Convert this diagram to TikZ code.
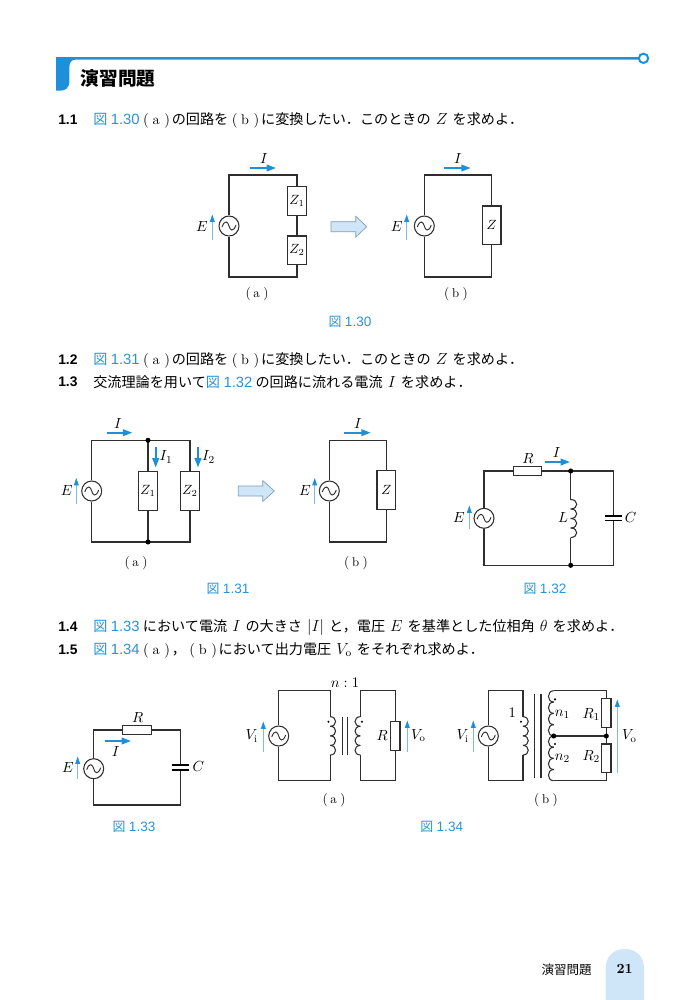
\documentclass[tikz,border=0pt]{standalone}
\usepackage{fontspec}
\usetikzlibrary{arrows.meta}
\newfontfamily\cjk{Noto Sans CJK JP}
\newfontfamily\hv[Scale=1.05]{Liberation Sans}
\definecolor{figblue}{HTML}{2A93D5}
\definecolor{headblue}{HTML}{1D90DC}
\definecolor{paleblue}{HTML}{CFE6F8}
\definecolor{thinblue}{HTML}{7DBDE4}
\definecolor{wirecol}{HTML}{2E2E2E}
\definecolor{arrowedge}{HTML}{7E9DB5}
\newcommand{\fg}[1]{{\color{figblue}\cjk 図\hspace{2.6pt}\hv #1}}
\newcommand{\pa}[1]{\hspace{2.6pt}$($\hspace{2.8pt}$\mathrm{#1}$\hspace{3.5pt}$)$\hspace{1.3pt}}
\newcommand{\sbl}[1]{$($\hspace{2pt}$\mathrm{#1}$\hspace{2.6pt}$)$}
\newcommand{\tm}[1]{\hspace{1.4pt}{\fontsize{11.5}{13}\selectfont$#1$}\hspace{1.4pt}}
\newcommand{\inductor}[5]{% x, y top, y bottom, bumps, bulge
  \pgfmathsetmacro{\hh}{(#3-#2)/#4}
  \foreach \k in {1,...,#4}{
    \draw[wire] (#1,{#2+(\k-1)*\hh}) .. controls ({#1+#5},{#2+(\k-1)*\hh}) and ({#1+#5},{#2+\k*\hh}) .. (#1,{#2+\k*\hh});
  }}
\newcommand{\blockarrow}[5]{% x0, xneck, x1, y centre, half body
  \draw[fill=paleblue,draw=arrowedge,line width=.5pt] (#1,#4-#5) -- (#2,#4-#5) -- (#2,#4-#5*2.1) -- (#3,#4) -- (#2,#4+#5*2.1) -- (#2,#4+#5) -- (#1,#4+#5) -- cycle;}
\tikzset{
  wire/.style={draw=wirecol,line width=.8pt,line join=miter},
  acsrc/.style={circle,draw=wirecol,line width=.8pt,minimum size=15pt,inner sep=0pt,fill=white,
    path picture={\draw[wirecol,line width=.7pt,shift={(path picture bounding box.center)}] (-7,1) .. controls (-4,-7) and (-1,-4) .. (0,0) .. controls (1,4) and (4,7) .. (7,-1);}},
  imp/.style={rectangle,draw=wirecol,line width=.9pt,fill=white,minimum width=14pt,minimum height=21.5pt,inner sep=0pt},
  impb/.style={imp,minimum height=29pt},
  res/.style={rectangle,draw=wirecol,line width=.9pt,fill=white,minimum width=21.5pt,minimum height=6.5pt,inner sep=0pt},
  vres/.style={rectangle,draw=wirecol,line width=.9pt,fill=white,minimum width=7pt,minimum height=21.5pt,inner sep=0pt},
  jn/.style={circle,fill=black,inner sep=0pt,minimum size=3.8pt},
  mk/.style={circle,fill=black,inner sep=0pt,minimum size=1.8pt},
  lab/.style={inner sep=0pt,font=\fontsize{10.8}{13}\selectfont},
  sublab/.style={inner sep=0pt,font=\fontsize{9.6}{11}\selectfont},
  figcap/.style={inner sep=0pt,font=\fontsize{9.7}{12}\selectfont},
  txt/.style={anchor=west,inner sep=0pt,font=\fontsize{10.6}{12}\selectfont\cjk},
  num/.style={anchor=west,inner sep=0pt,font=\fontsize{9.9}{12}\selectfont\bfseries\hv},
  cur/.style={draw=headblue,line width=1.2pt,-{Triangle[length=7pt,width=5pt]}},
  vlt/.style={draw=thinblue,line width=.55pt,-{Triangle[length=5.5pt,width=3.6pt,color=headblue]}},
  plate/.style={draw=black,line width=1pt},
}
\begin{document}
\begin{tikzpicture}[x=0.75pt,y=-0.75pt]
\useasboundingbox (0,0) rectangle (699,1000);
% heading
\fill[headblue] (56,57) -- (640,57) -- (640,59.5) -- (76,59.5) .. controls (71,59.5) and (69.3,63) .. (69.3,68) -- (69.3,82) .. controls (69.3,88) and (65,90.7) .. (60,90.7) -- (56,90.7) -- cycle;
\node[circle,draw=headblue,line width=1.5pt,fill=white,minimum size=7pt,inner sep=0pt] (hc) at (643.5,58.3) {};
\node[anchor=west,inner sep=0pt,font=\fontsize{14}{16}\selectfont\bfseries\cjk] (head) at (80.5,78) {演習問題};
% text
\node[num] (n1) at (58,120) {1.1};
\node[txt] (t1) at (93,120) {\fg{1.30}\pa{a}の回路を\pa{b}に変換したい．このときの \tm{Z} を求めよ．};
\node[num] (n2) at (58,360) {1.2};
\node[txt] (t2) at (93,360) {\fg{1.31}\pa{a}の回路を\pa{b}に変換したい．このときの \tm{Z} を求めよ．};
\node[num] (n3) at (58,382) {1.3};
\node[txt] (t3) at (93,382) {交流理論を用いて\fg{1.32} の回路に流れる電流 \tm{I} を求めよ．};
\node[num] (n4) at (58,627) {1.4};
\node[txt] (t4) at (93,627) {\fg{1.33} において電流 \tm{I} の大きさ \tm{|I|} と，電圧 \tm{E} を基準とした位相角 \tm{\theta} を求めよ．};
\node[num] (n5) at (58,650) {1.5};
\node[txt] (t5) at (93,650) {\fg{1.34}\pa{a}，\pa{b}において出力電圧 \tm{V_{\mathrm{o}}} をそれぞれ求めよ．};

% Fig 1.30 a
\coordinate (atl) at (229,175); \coordinate (atr) at (297,175);
\coordinate (abl) at (229,277); \coordinate (abr) at (297,277);
\node[acsrc] (as) at (229,226) {};
\node[imp] (az1) at (297,200.8) {$Z_1$};
\node[imp] (az2) at (297,250.3) {$Z_2$};
\draw[wire] (as) -- (atl) -- (atr) -- (az1);
\draw[wire] (az1) -- (az2);
\draw[wire] (az2) -- (abr) -- (abl) -- (as);
\coordinate (ai0) at (250,168); \coordinate (ai1) at (276,168);
\draw[cur] (ai0) -- (ai1);
\node[lab] (aI) at (264,159) {$I$};
\node[lab] (aE) at (202,227) {$E$};
\coordinate (ae0) at (212.3,239.5); \coordinate (ae1) at (212.3,214.5);
\draw[vlt] (ae0) -- (ae1);
\node[sublab] (al) at (257,294) {\sbl{a}};
\blockarrow{331}{355.7}{366.7}{226.7}{5}
% Fig 1.30 b
\coordinate (btl) at (424.3,175); \coordinate (btr) at (491.7,175);
\coordinate (bbl) at (424.3,277); \coordinate (bbr) at (491.7,277);
\node[acsrc] (bs) at (424.3,226) {};
\node[impb] (bz) at (491.7,225.3) {$Z$};
\draw[wire] (bs) -- (btl) -- (btr) -- (bz);
\draw[wire] (bz) -- (bbr) -- (bbl) -- (bs);
\coordinate (bi0) at (444.3,168); \coordinate (bi1) at (470.7,168);
\draw[cur] (bi0) -- (bi1);
\node[lab] (bI) at (458,159) {$I$};
\node[lab] (bE) at (396.7,227) {$E$};
\coordinate (be0) at (406.7,239.5); \coordinate (be1) at (406.7,214.5);
\draw[vlt] (be0) -- (be1);
\node[sublab] (bl) at (456,294) {\sbl{b}};
\node[figcap] (c130) at (350,322) {\fg{1.30}};

% Fig 1.31 a
\coordinate (ctl) at (91.7,440.3); \coordinate (ctm) at (148,440.3); \coordinate (ctr) at (190,440.3);
\coordinate (cbl) at (91.7,542); \coordinate (cbm) at (148,542); \coordinate (cbr) at (190,542);
\node[acsrc] (cs) at (91.7,491) {};
\node[impb] (cz1) at (148,491) {$Z_1$};
\node[impb] (cz2) at (190,491) {$Z_2$};
\draw[wire] (cs) -- (ctl) -- (ctr) -- (cz2);
\draw[wire] (cz2) -- (cbr) -- (cbl) -- (cs);
\draw[wire] (ctm) -- (cz1); \draw[wire] (cz1) -- (cbm);
\node[jn] (cd1) at (ctm) {}; \node[jn] (cd2) at (cbm) {};
\coordinate (ci0) at (106.7,432.7); \coordinate (ci1) at (132.3,432.7);
\draw[cur] (ci0) -- (ci1);
\node[lab] (cI) at (118,424) {$I$};
\coordinate (ci2) at (155.7,447); \coordinate (ci3) at (155.7,467.5);
\draw[cur] (ci2) -- (ci3);
\node[lab] (cI1) at (166,457) {$I_1$};
\coordinate (ci4) at (198,447); \coordinate (ci5) at (198,467.5);
\draw[cur] (ci4) -- (ci5);
\node[lab] (cI2) at (208.5,457) {$I_2$};
\node[lab] (cE) at (66.7,491) {$E$};
\coordinate (ce0) at (76.3,504); \coordinate (ce1) at (76.3,478);
\draw[vlt] (ce0) -- (ce1);
\node[sublab] (cl) at (136,562.7) {\sbl{a}};
\blockarrow{238.3}{262.7}{274.3}{491}{5}
% Fig 1.31 b
\coordinate (dtl) at (329.3,440.3); \coordinate (dtr) at (386.3,440.3);
\coordinate (dbl) at (329.3,542); \coordinate (dbr) at (386.3,542);
\node[acsrc] (ds) at (329.3,491) {};
\node[impb] (dz) at (386.3,489.8) {$Z$};
\draw[wire] (ds) -- (dtl) -- (dtr) -- (dz);
\draw[wire] (dz) -- (dbr) -- (dbl) -- (ds);
\coordinate (di0) at (344.3,432.7); \coordinate (di1) at (370.7,432.7);
\draw[cur] (di0) -- (di1);
\node[lab] (dI) at (358,424) {$I$};
\node[lab] (dE) at (305,491) {$E$};
\coordinate (de0) at (314.7,504); \coordinate (de1) at (314.7,478);
\draw[vlt] (de0) -- (de1);
\node[sublab] (dl) at (356,562.7) {\sbl{b}};
\node[figcap] (c131) at (228,589) {\fg{1.31}};

% Fig 1.32
\coordinate (etl) at (484,471); \coordinate (etm) at (570.7,471); \coordinate (etr) at (613.3,471);
\coordinate (ebl) at (484,565.3); \coordinate (ebm) at (570.7,565.3); \coordinate (ebr) at (613.3,565.3);
\coordinate (el0) at (570.7,499.5); \coordinate (el1) at (570.7,537.5);
\coordinate (ec0) at (613.3,516); \coordinate (ec1) at (613.3,520.5);
\node[acsrc] (es) at (484,518.3) {};
\node[res] (er) at (527.5,471) {};
\draw[wire] (es) -- (etl) -- (er);
\draw[wire] (er) -- (etr) -- (ec0);
\draw[wire] (ec1) -- (ebr) -- (ebl) -- (es);
\draw[wire] (etm) -- (el0); \draw[wire] (el1) -- (ebm);
\inductor{570.7}{499.5}{537.5}{4}{8}
\draw[plate] (605,516) -- (621.7,516); \draw[plate] (605,520.5) -- (621.7,520.5);
\node[jn] (ed1) at (etm) {}; \node[jn] (ed2) at (ebm) {};
\node[lab] (eR) at (528,459) {$R$};
\coordinate (ei0) at (545,462); \coordinate (ei1) at (570,462);
\draw[cur] (ei0) -- (ei1);
\node[lab] (eI) at (556.7,452.7) {$I$};
\node[lab] (eE) at (459,518) {$E$};
\coordinate (ee0) at (469.3,529); \coordinate (ee1) at (469.3,505.5);
\draw[vlt] (ee0) -- (ee1);
\node[lab] (eL) at (563,518) {$L$};
\node[lab] (eC) at (630.7,518) {$C$};
\node[figcap] (c132) at (545,589) {\fg{1.32}};

% Fig 1.33
\coordinate (ftl) at (93.7,730); \coordinate (ftr) at (180.7,730);
\coordinate (fbl) at (93.7,805); \coordinate (fbr) at (180.7,805);
\coordinate (fc0) at (180.7,765); \coordinate (fc1) at (180.7,770);
\node[acsrc] (fs) at (93.7,768.7) {};
\node[res] (fr) at (137,730) {};
\draw[wire] (fs) -- (ftl) -- (fr);
\draw[wire] (fr) -- (ftr) -- (fc0);
\draw[wire] (fc1) -- (fbr) -- (fbl) -- (fs);
\draw[plate] (171.7,765) -- (189.3,765); \draw[plate] (171.7,770) -- (189.3,770);
\node[lab] (fR) at (137.7,717.3) {$R$};
\coordinate (fi0) at (105,741); \coordinate (fi1) at (131,741);
\draw[cur] (fi0) -- (fi1);
\node[lab] (fI) at (115.7,751.7) {$I$};
\node[lab] (fE) at (68,768) {$E$};
\coordinate (fe0) at (77.7,778.5); \coordinate (fe1) at (77.7,756.5);
\draw[vlt] (fe0) -- (fe1);
\node[lab] (fC) at (198.3,767) {$C$};
\node[figcap] (c133) at (134,826.7) {\fg{1.33}};

% Fig 1.34 a
\coordinate (gtl) at (278.7,690.7); \coordinate (gtr) at (330.3,690.7);
\coordinate (gbl) at (278.7,780.7); \coordinate (gbr) at (330.3,780.7);
\coordinate (gp0) at (330.3,716.7); \coordinate (gp1) at (330.3,755);
\node[acsrc] (gs) at (278.7,736) {};
\draw[wire] (gs) -- (gtl) -- (gtr) -- (gp0);
\draw[wire] (gp1) -- (gbr) -- (gbl) -- (gs);
\inductor{330.3}{716.7}{755}{4}{7}
\draw[wire] (342.7,717) -- (342.7,755); \draw[wire] (347.7,717) -- (347.7,755);
\coordinate (gq0) at (360.3,716.7); \coordinate (gq1) at (360.3,755);
\coordinate (gutl) at (360.3,690.7); \coordinate (gutr) at (395.3,690.7);
\coordinate (gubl) at (360.3,780.7); \coordinate (gubr) at (395.3,780.7);
\node[vres] (gr) at (395.3,736) {};
\draw[wire] (gq0) -- (gutl) -- (gutr) -- (gr);
\draw[wire] (gr) -- (gubr) -- (gubl) -- (gq1);
\inductor{360.3}{716.7}{755}{4}{-7}
\node[mk] (gm1) at (328.5,721.7) {};
\node[mk] (gm2) at (362,721.7) {};
\node[lab] (gVi) at (251.7,736) {$V_{\mathrm{i}}$};
\coordinate (ge0) at (263.3,751.7); \coordinate (ge1) at (263.3,721.5);
\draw[vlt] (ge0) -- (ge1);
\node[lab] (gR) at (382.3,736) {$R$};
\coordinate (go0) at (407.3,751.7); \coordinate (go1) at (407.3,720.5);
\draw[vlt] (go0) -- (go1);
\node[lab] (gVo) at (418.3,735.5) {$V_{\mathrm{o}}$};
\node[lab] (gn) at (345,682.3) {$n:1$};
\node[sublab] (gl) at (334,800) {\sbl{a}};

% Fig 1.34 b
\coordinate (htl) at (488.3,690.7); \coordinate (htr) at (523,690.7);
\coordinate (hbl) at (488.3,780.7); \coordinate (hbr) at (523,780.7);
\coordinate (hp0) at (523,716.7); \coordinate (hp1) at (523,755);
\node[acsrc] (hs) at (488.3,736) {};
\draw[wire] (hs) -- (htl) -- (htr) -- (hp0);
\draw[wire] (hp1) -- (hbr) -- (hbl) -- (hs);
\inductor{523}{716.7}{755}{4}{7}
\draw[wire] (534.3,694) -- (534.3,778); \draw[wire] (541,694) -- (541,778);
\coordinate (hutl) at (553.7,690.7); \coordinate (hutr) at (606.3,690.7);
\coordinate (hml) at (553.7,736); \coordinate (hmr) at (606.3,736);
\coordinate (hubl) at (553.7,780.7); \coordinate (hubr) at (606.3,780.7);
\node[vres] (hr1) at (606.3,713.2) {};
\node[vres] (hr2) at (606.3,758.4) {};
\draw[wire] (hutl) -- (hutr) -- (hr1);
\draw[wire] (hr1) -- (hr2);
\draw[wire] (hr2) -- (hubr) -- (hubl);
\draw[wire] (hml) -- (hmr);
\inductor{553.7}{690.7}{736}{4}{-7}
\inductor{553.7}{736}{780.7}{4}{-7}
\node[jn] (hd1) at (hml) {}; \node[jn] (hd2) at (hmr) {};
\node[mk] (hm1) at (521,721.7) {};
\node[mk] (hm2) at (555,699.3) {};
\node[mk] (hm3) at (555,744) {};
\node[lab] (h1) at (512.3,712.3) {$1$};
\node[lab] (hVi) at (462.7,736) {$V_{\mathrm{i}}$};
\coordinate (he0) at (473.3,751.7); \coordinate (he1) at (473.3,720.5);
\draw[vlt] (he0) -- (he1);
\node[lab] (hn1) at (562.5,714.3) {$n_1$};
\node[lab] (hn2) at (562.5,758.3) {$n_2$};
\node[lab] (hR1) at (591.3,714.3) {$R_1$};
\node[lab] (hR2) at (591.3,756.5) {$R_2$};
\coordinate (ho0) at (617.3,772.7); \coordinate (ho1) at (617.3,699.5);
\draw[vlt] (ho0) -- (ho1);
\node[lab] (hVo) at (629.3,736) {$V_{\mathrm{o}}$};
\node[sublab] (hl) at (546,800) {\sbl{b}};
\node[figcap] (c134) at (441.7,826.7) {\fg{1.34}};

% footer
\node[inner sep=0pt,font=\fontsize{9.4}{11}\selectfont\cjk] (ft) at (566.7,969.5) {演習問題};
\fill[paleblue] (605.7,1000) -- (605.7,968) .. controls (605.7,956) and (614,949) .. (624.8,949) .. controls (635.6,949) and (644,956) .. (644,968) -- (644,1000) -- cycle;
\node[inner sep=0pt,font=\fontsize{10.5}{12}\selectfont\bfseries] (pg) at (624.7,968.5) {21};
\end{tikzpicture}
\end{document}
